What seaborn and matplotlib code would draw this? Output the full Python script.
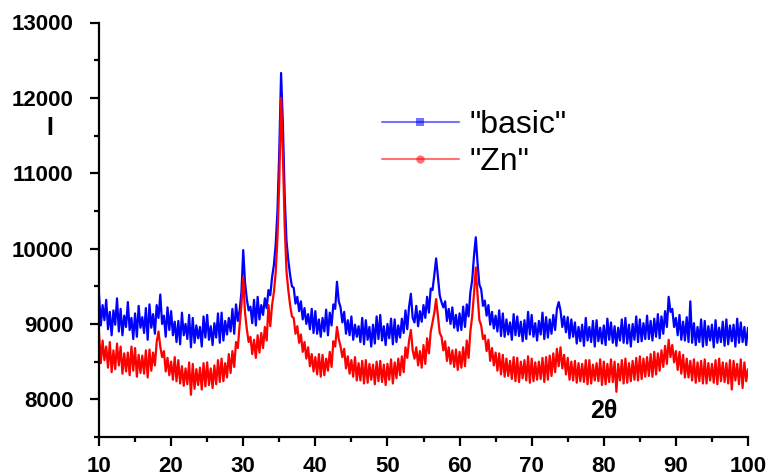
import numpy as np
import pandas as pd
import matplotlib
matplotlib.use("Agg")
import matplotlib.pyplot as plt
from matplotlib.lines import Line2D
from matplotlib.ticker import MultipleLocator
import seaborn as sns

# 2-theta sampling grid (0.25 degree steps, 10..100)
two_theta = np.linspace(10, 100, 361)

# Intensity, four samples per degree
basic = [
    9400, 8980, 9250, 9050,  9320, 8930, 9160, 8850,  9180, 8990, 9340, 8900,
    9200, 8850, 9110, 8960,  9290, 8920, 9080, 8800,  9140, 8830, 9240, 8950,
    9090, 8880, 9210, 8790,  9260, 8950, 9130, 8870,  9250, 9080, 9390, 9000,
    9110, 8830, 9220, 8920,  9170, 8850, 9030, 8760,  9040, 8730, 9150, 8850,
    9000, 8800, 9120, 8690,  9080, 8750, 8980, 8810,  8960, 8700, 9100, 8820,
    9120, 8790, 8970, 8720,  9010, 8820, 9140, 8750,  9150, 8780, 9040, 8860,
    9080, 8900, 9200, 8870,  9260, 9040, 9180, 9420,  9980, 9550, 9330, 9180,
    9230, 9010, 9320, 8980,  9360, 9060, 9250, 9120,  9340, 9210, 9450, 9380,
    9620, 9780, 10050, 10500, 11300, 12330, 11650, 10700, 10100, 9850, 9650, 9500,
    9480, 9270, 9360, 9170,  9300, 9060, 9210, 9000,  9130, 8930, 9200, 8880,
    9170, 8870, 9060, 8830,  9080, 8900, 9190, 8850,  9150, 8980, 9260, 9200,
    9560, 9300, 9220, 9020,  9160, 8870, 9050, 8850,  9100, 8790, 8990, 8830,
    8970, 8760, 9080, 8730,  9050, 8790, 8960, 8700,  8990, 8740, 9100, 8800,
    9120, 8780, 8970, 8720,  9000, 8810, 9070, 8730,  9060, 8760, 8980, 8820,
    9070, 8880, 9180, 8930,  9230, 9400, 9080, 9020,  9240, 8970, 9170, 9030,
    9250, 9080, 9360, 9150,  9470, 9450, 9650, 9870,  9620, 9380, 9290, 9220,
    9300, 9040, 9200, 9000,  9220, 8950, 9120, 8910,  9140, 8920, 9230, 8960,
    9260, 9100, 9420, 9580,  9900, 10150, 9800, 9520, 9460, 9240, 9310, 9110,
    9250, 8990, 9160, 8940,  9110, 8900, 9180, 8840,  9140, 8830, 9060, 8860,
    9020, 8790, 9130, 8850,  9100, 8840, 9030, 8770,  9050, 8800, 9160, 8860,
    9120, 8830, 9010, 8780,  9040, 8860, 9150, 8800,  9090, 8820, 9060, 8870,
    9120, 8920, 9200, 9290,  9180, 8960, 9100, 8890,  9090, 8810, 9060, 8830,
    9020, 8740, 8960, 8770,  8990, 8710, 9080, 8780,  8960, 8760, 9040, 8700,
    9050, 8770, 8950, 8740,  8980, 8720, 9070, 8790,  9020, 8750, 8970, 8710,
    8950, 8780, 9060, 8750,  9080, 8740, 8990, 8700,  9000, 8790, 9100, 8760,
    9060, 8770, 9010, 8800,  9110, 8800, 9040, 8780,  9070, 8830, 9130, 8810,
    9100, 8870, 9170, 8960,  9360, 9160, 9200, 8960,  9080, 8850, 9120, 8790,
    9030, 8780, 9090, 8760,  9300, 8750, 9010, 8720,  8960, 8760, 9060, 8700,
    9040, 8720, 8970, 8780,  8990, 8690, 9050, 8750,  8950, 8760, 9030, 8710,
    9060, 8730, 8980, 8770,  8990, 8700, 9070, 8750,  9020, 8760, 8960, 8720,
    8950,
]

zn = [
    8880, 8480, 8780, 8520,  8700, 8420, 8760, 8360,  8650, 8400, 8740, 8450,
    8700, 8340, 8610, 8370,  8620, 8320, 8700, 8380,  8680, 8300, 8590, 8350,
    8580, 8340, 8650, 8290,  8660, 8380, 8620, 8450,  8760, 8900, 8700, 8560,
    8640, 8370, 8550, 8320,  8500, 8260, 8560, 8240,  8520, 8210, 8440, 8180,
    8410, 8200, 8490, 8060,  8470, 8140, 8400, 8190,  8420, 8130, 8480, 8170,
    8490, 8190, 8410, 8150,  8450, 8200, 8520, 8230,  8540, 8240, 8480, 8290,
    8600, 8350, 8640, 8430,  8760, 8680, 8980, 9250,  9620, 9150, 8930, 8760,
    8830, 8600, 8790, 8550,  8850, 8620, 8880, 8680,  8960, 8780, 9250, 8970,
    9250, 9420, 9680, 10150, 10900, 12000, 11250, 10300, 9700, 9450, 9250, 9100,
    9080, 8870, 8970, 8750,  8860, 8630, 8760, 8540,  8690, 8440, 8600, 8370,
    8560, 8330, 8600, 8300,  8590, 8320, 8540, 8380,  8630, 8430, 8770, 8700,
    8960, 8800, 8700, 8560,  8670, 8410, 8570, 8340,  8520, 8300, 8560, 8250,
    8480, 8250, 8510, 8210,  8520, 8220, 8470, 8260,  8460, 8200, 8500, 8240,
    8510, 8230, 8460, 8190,  8470, 8260, 8530, 8210,  8490, 8280, 8540, 8320,
    8570, 8360, 8690, 8550,  8780, 8920, 8650, 8540,  8690, 8450, 8640, 8420,
    8720, 8470, 8810, 8610,  8900, 9020, 9150, 9330,  9100, 8880, 8830, 8650,
    8770, 8510, 8690, 8470,  8650, 8430, 8660, 8390,  8630, 8420, 8690, 8440,
    8780, 8550, 8900, 9100,  9400, 9750, 9380, 9050,  8980, 8800, 8850, 8640,
    8790, 8510, 8680, 8450,  8620, 8380, 8610, 8330,  8590, 8300, 8540, 8310,
    8510, 8270, 8560, 8240,  8550, 8230, 8500, 8280,  8520, 8250, 8570, 8220,
    8540, 8240, 8490, 8260,  8500, 8270, 8550, 8230,  8560, 8260, 8580, 8310,
    8610, 8360, 8670, 8440,  8690, 8410, 8590, 8330,  8550, 8260, 8500, 8250,
    8510, 8220, 8480, 8240,  8470, 8230, 8520, 8200,  8520, 8210, 8460, 8250,
    8480, 8240, 8530, 8190,  8500, 8200, 8470, 8230,  8530, 8230, 8500, 8100,
    8470, 8250, 8520, 8210,  8540, 8220, 8480, 8240,  8510, 8260, 8550, 8250,
    8570, 8270, 8540, 8300,  8560, 8310, 8600, 8300,  8630, 8330, 8610, 8380,
    8650, 8430, 8710, 8470,  8790, 8560, 8720, 8490,  8640, 8390, 8630, 8340,
    8590, 8290, 8540, 8290,  8510, 8250, 8530, 8220,  8490, 8240, 8510, 8210,
    8530, 8210, 8480, 8250,  8470, 8220, 8520, 8200,  8540, 8240, 8490, 8230,
    8480, 8210, 8520, 8130,  8510, 8250, 8470, 8200,  8530, 8150, 8490, 8240,
    8400,
]

series_labels = ['"basic"', '"Zn"']
x_ticks = [10, 20, 30, 40, 50, 60, 70, 80, 90, 100]
y_ticks = [8000, 9000, 10000, 11000, 12000, 13000]

df = pd.DataFrame({
    "two_theta": np.concatenate([two_theta, two_theta]),
    "I": np.concatenate([basic, zn]),
    "series": [series_labels[0]] * len(basic) + [series_labels[1]] * len(zn),
})

sns.set_style("ticks")
plt.rcParams["font.family"] = ["Liberation Sans", "DejaVu Sans"]
plt.rcParams["text.color"] = "black"
plt.rcParams["axes.labelcolor"] = "black"
plt.rcParams["xtick.color"] = "black"
plt.rcParams["ytick.color"] = "black"

fig = plt.figure(figsize=(7.7, 4.76), dpi=100)
ax = fig.add_axes([99 / 770, 1 - 437 / 476, (748 - 99) / 770, (437 - 22.5) / 476])

colors = {series_labels[0]: "#0000ff", series_labels[1]: "#ff0000"}
sns.lineplot(data=df, x="two_theta", y="I", hue="series", palette=colors,
             estimator=None, sort=False, linewidth=1.6, ax=ax, legend=False)

ax.set_xlim(10, 100)
ax.set_ylim(7500, 13000)
ax.set_xticks(x_ticks)
ax.set_yticks(y_ticks)
ax.xaxis.set_minor_locator(MultipleLocator(5))
ax.yaxis.set_minor_locator(MultipleLocator(500))
ax.set_xlabel("")
ax.set_ylabel("")

for s in ["top", "right"]:
    ax.spines[s].set_visible(False)
for s in ["left", "bottom"]:
    ax.spines[s].set_linewidth(1.6)
    ax.spines[s].set_color("black")

ax.tick_params(axis="both", which="major", direction="out", length=6.5, width=1.6,
               colors="black", labelcolor="black", labelsize=16)
ax.tick_params(axis="both", which="minor", direction="out", length=3.5, width=1.6,
               colors="black")
ax.tick_params(axis="y", which="major", pad=12)
ax.tick_params(axis="x", which="major", pad=7)
for lab in ax.get_xticklabels() + ax.get_yticklabels():
    lab.set_fontweight("bold")
    lab.set_color("black")

fig.text(49.5 / 770, 1 - 128 / 476, "I", fontsize=18, fontweight="bold",
         ha="center", va="center", color="black")
fig.text(604 / 770, 1 - 411 / 476, "2θ", fontsize=18, fontweight="bold",
         ha="center", va="center", color="black")

handles = [
    Line2D([0], [0], color="#0000ff", alpha=0.55, lw=1.5, marker="s",
           markersize=5.5, markerfacecolor="#0000ff", markeredgecolor="#0000ff",
           markeredgewidth=0),
    Line2D([0], [0], color="#ff0000", alpha=0.55, lw=1.5, marker="o",
           markersize=6, markerfacecolor="#ff0000", markeredgecolor="#ff0000",
           markeredgewidth=0),
]
leg = fig.legend(handles, series_labels, loc="center left",
                 bbox_to_anchor=(382 / 770, 1 - 143.5 / 476),
                 frameon=False, fontsize=23, handlelength=2.4, handletextpad=0.33,
                 borderpad=0, borderaxespad=0, labelspacing=0.2)
for t in leg.get_texts():
    t.set_color("black")

fig.savefig("out.png", dpi=100, facecolor="white")
